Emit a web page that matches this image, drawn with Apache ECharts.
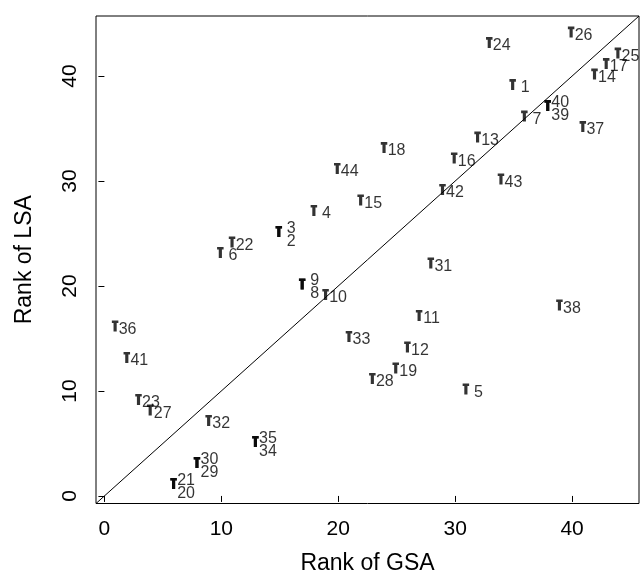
<!DOCTYPE html>
<html>
<head>
<meta charset="utf-8">
<script src="https://cdn.jsdelivr.net/npm/echarts@6/dist/echarts.min.js"></script>
<style>
  html, body { margin: 0; padding: 0; background: #fff; }
  #chart { width: 640px; height: 574px; }
</style>
</head>
<body>
<div id="chart"></div>
<script>
// Item numbers and their ranks under the two methods
const itemIds = [1, 2, 3, 4, 5, 6, 7, 8, 9, 10, 11, 12, 13, 14, 15, 16, 17, 18, 19, 20, 21, 22,
                 23, 24, 25, 26, 27, 28, 29, 30, 31, 32, 33, 34, 35, 36, 37, 38, 39, 40, 41, 42, 43, 44];
const gsaRank = [35, 15, 15, 18, 31, 10, 36, 17, 17, 19, 27, 26, 32, 42, 22, 30, 43, 24, 25, 6, 6, 11,
                 3, 33, 44, 40, 4, 23, 8, 8, 28, 9, 21, 13, 13, 1, 41, 39, 38, 38, 2, 29, 34, 20];
const lsaRank = [39, 25, 25, 27, 10, 23, 36, 20, 20, 19, 17, 14, 34, 40, 28, 32, 41, 33, 12, 1, 1, 24,
                 9, 43, 42, 44, 8, 11, 3, 3, 22, 7, 15, 5, 5, 16, 35, 18, 37, 37, 13, 29, 30, 31];

// Items sharing a position: labels are stacked above / below
const stackedUpper = [3, 9, 21, 30, 35, 40];
const stackedLower = [2, 8, 20, 29, 34, 39];

const tickValues = [0, 10, 20, 30, 40];
const axisMin = -0.72;
const axisMax = 45.72;

const FONT = '"Liberation Sans", Arial, Helvetica, sans-serif';

const points = itemIds.map((id, i) => [gsaRank[i], lsaRank[i], id]);

const labelPoints = points.map(p => {
  const id = p[2];
  let dy = 1.5;
  if (stackedUpper.includes(id)) dy = -5;
  if (stackedLower.includes(id)) dy = 8;
  return {
    value: p,
    label: { offset: [11.5, dy] }
  };
});

const chart = echarts.init(document.getElementById('chart'), null, { renderer: 'canvas' });

const axisCommon = {
  type: 'value',
  min: axisMin,
  max: axisMax,
  nameLocation: 'middle',
  nameTextStyle: { fontFamily: FONT, fontSize: 23, color: '#000' },
  axisLine: { show: false },
  splitLine: { show: false },
  axisTick: {
    show: true,
    inside: false,
    length: 6,
    customValues: tickValues,
    lineStyle: { color: '#000', width: 1 }
  },
  axisLabel: {
    customValues: tickValues,
    fontFamily: FONT,
    fontSize: 21,
    color: '#000',
    margin: 15
  }
};

chart.setOption({
  animation: false,
  backgroundColor: '#fff',
  grid: {
    left: 96,
    right: 1,
    top: 16,
    bottom: 70.5,
    containLabel: false,
    outerBoundsMode: 'none',
    show: true,
    borderColor: '#000',
    borderWidth: 1,
    backgroundColor: 'transparent'
  },
  xAxis: Object.assign({}, axisCommon, {
    name: 'Rank of GSA',
    nameGap: 49
  }),
  yAxis: Object.assign({}, axisCommon, {
    name: 'Rank of LSA',
    nameGap: 60,
    axisLabel: Object.assign({}, axisCommon.axisLabel, { rotate: 90 })
  }),
  series: [
    {
      // identity line y = x across the whole plotting region
      type: 'line',
      data: [[axisMin, axisMin], [axisMax, axisMax]],
      showSymbol: false,
      symbol: 'none',
      silent: true,
      lineStyle: { color: '#000', width: 1 },
      z: 1
    },
    {
      type: 'scatter',
      data: points,
      symbol: 'path://M0,0L7,0L7,2.6L5.2,2.6L5.2,11L1.8,11L1.8,2.6L0,2.6Z',
      symbolSize: [6.5, 11],
      symbolOffset: [-1, -2],
      itemStyle: { color: '#000' },
      silent: true,
      z: 3
    },
    {
      type: 'scatter',
      data: labelPoints,
      symbolSize: 1,
      itemStyle: { color: 'rgba(0,0,0,0)' },
      silent: true,
      label: {
        show: true,
        position: 'inside',
        formatter: p => String(p.value[2]),
        fontFamily: FONT,
        fontSize: 16,
        color: '#000'
      },
      z: 4
    }
  ]
});
</script>
</body>
</html>
